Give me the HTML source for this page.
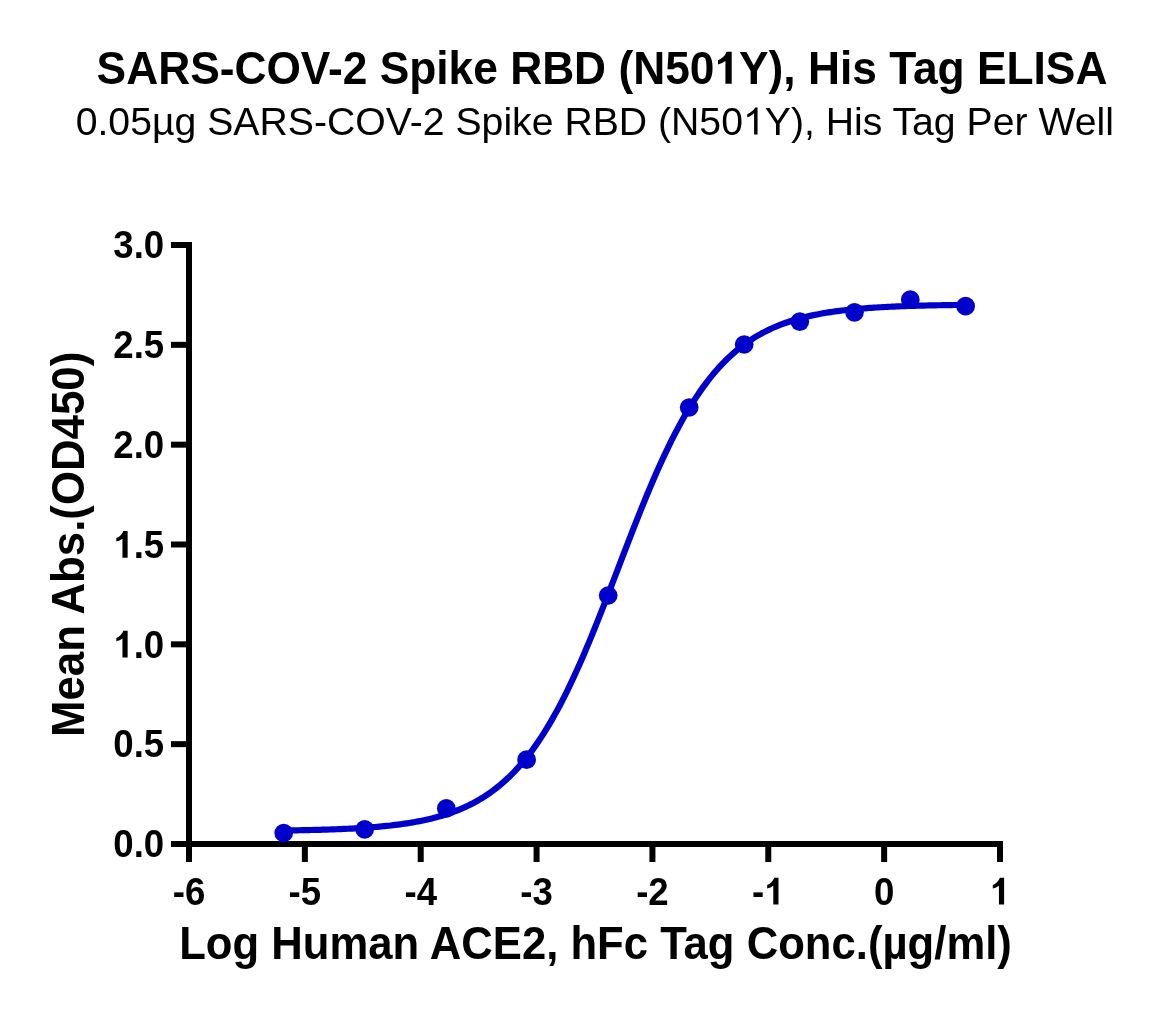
<!DOCTYPE html>
<html><head><meta charset="utf-8"><style>
html,body{margin:0;padding:0;background:#fff;}
svg{display:block;will-change:transform;}
text{font-family:"Liberation Sans",sans-serif;fill:#000;}
.tk{font-weight:bold;font-size:38.8px;}
.ttl{font-weight:bold;font-size:46.5px;}
.sub{font-size:39.2px;}
.ax{font-weight:bold;font-size:46.5px;}
</style></head><body>
<svg width="1157" height="1014" viewBox="0 0 1157 1014">
<rect width="1157" height="1014" fill="#fff"></rect>
<g transform="translate(602,83.8) scale(0.9527,1)"><text x="0" y="0" text-anchor="middle" class="ttl">SARS-COV-2 Spike RBD (N50 Y), His Tag ELISA</text><path d="M800 0L510 0L510 1000Q370 895 167 855L167 1035Q280 1075 400 1178Q520 1280 562 1412L800 1412Z" transform="translate(117.98,0.00) scale(0.022705,-0.022705)"></path></g>
<g><text x="594.8" y="134.5" text-anchor="middle" class="sub">0.05µg SARS-COV-2 Spike RBD (N50 Y), His Tag Per Well</text><path d="M763 0L583 0L583 1105Q518 1045 412 985Q307 925 223 896L223 1063Q374 1132 485 1227Q597 1323 647 1412L763 1412Z" transform="translate(742.94,134.50) scale(0.019141,-0.019141)"></path></g>
<g fill="#000">
<rect x="186" y="242" width="6" height="620"></rect>
<rect x="171" y="841" width="832" height="6"></rect>
<rect x="171" y="242.00" width="21" height="6"></rect>
<rect x="171" y="341.83" width="21" height="6"></rect>
<rect x="171" y="441.67" width="21" height="6"></rect>
<rect x="171" y="541.50" width="21" height="6"></rect>
<rect x="171" y="641.33" width="21" height="6"></rect>
<rect x="171" y="741.16" width="21" height="6"></rect>
<rect x="171" y="841.00" width="21" height="6"></rect>
<rect x="186.00" y="841" width="6" height="21"></rect>
<rect x="301.86" y="841" width="6" height="21"></rect>
<rect x="417.71" y="841" width="6" height="21"></rect>
<rect x="533.57" y="841" width="6" height="21"></rect>
<rect x="649.43" y="841" width="6" height="21"></rect>
<rect x="765.28" y="841" width="6" height="21"></rect>
<rect x="881.14" y="841" width="6" height="21"></rect>
<rect x="997.00" y="841" width="6" height="21"></rect>
</g>
<g><g transform="translate(164.20,258.20) scale(0.943,1)"><text x="0" y="0" text-anchor="end" class="tk">3.0</text></g>
<g transform="translate(164.20,358.03) scale(0.943,1)"><text x="0" y="0" text-anchor="end" class="tk">2.5</text></g>
<g transform="translate(164.20,457.87) scale(0.943,1)"><text x="0" y="0" text-anchor="end" class="tk">2.0</text></g>
<g transform="translate(164.20,557.70) scale(0.943,1)"><text x="0" y="0" text-anchor="end" class="tk"> .5</text><path d="M800 0L510 0L510 1000Q370 895 167 855L167 1035Q280 1075 400 1178Q520 1280 562 1412L800 1412Z" transform="translate(-53.94,0.00) scale(0.018945,-0.018945)"></path></g>
<g transform="translate(164.20,657.53) scale(0.943,1)"><text x="0" y="0" text-anchor="end" class="tk"> .0</text><path d="M800 0L510 0L510 1000Q370 895 167 855L167 1035Q280 1075 400 1178Q520 1280 562 1412L800 1412Z" transform="translate(-53.94,0.00) scale(0.018945,-0.018945)"></path></g>
<g transform="translate(164.20,757.37) scale(0.943,1)"><text x="0" y="0" text-anchor="end" class="tk">0.5</text></g>
<g transform="translate(164.20,857.20) scale(0.943,1)"><text x="0" y="0" text-anchor="end" class="tk">0.0</text></g>
<g transform="translate(189.00,904.60) scale(0.943,1)"><text x="0" y="0" text-anchor="middle" class="tk">-6</text></g>
<g transform="translate(304.86,904.60) scale(0.943,1)"><text x="0" y="0" text-anchor="middle" class="tk">-5</text></g>
<g transform="translate(420.71,904.60) scale(0.943,1)"><text x="0" y="0" text-anchor="middle" class="tk">-4</text></g>
<g transform="translate(536.57,904.60) scale(0.943,1)"><text x="0" y="0" text-anchor="middle" class="tk">-3</text></g>
<g transform="translate(652.43,904.60) scale(0.943,1)"><text x="0" y="0" text-anchor="middle" class="tk">-2</text></g>
<g transform="translate(768.28,904.60) scale(0.943,1)"><text x="0" y="0" text-anchor="middle" class="tk">- </text><path d="M800 0L510 0L510 1000Q370 895 167 855L167 1035Q280 1075 400 1178Q520 1280 562 1412L800 1412Z" transform="translate(-4.34,0.00) scale(0.018945,-0.018945)"></path></g>
<g transform="translate(884.14,904.60) scale(0.943,1)"><text x="0" y="0" text-anchor="middle" class="tk">0</text></g>
<g transform="translate(1000.00,904.60) scale(0.943,1)"><text x="0" y="0" text-anchor="middle" class="tk"> </text><path d="M800 0L510 0L510 1000Q370 895 167 855L167 1035Q280 1075 400 1178Q520 1280 562 1412L800 1412Z" transform="translate(-10.79,0.00) scale(0.018945,-0.018945)"></path></g></g>
<g transform="translate(595.5,959.1) scale(0.9390,1)"><text x="0" y="0" text-anchor="middle" class="ax">Log Human ACE2, hFc Tag Conc.(µg/ml)</text></g>
<g transform="translate(83.9,544.4) rotate(-90) scale(0.9423,1)"><text x="0" y="0" text-anchor="middle" class="ax">Mean Abs.(OD450)</text></g>
<path d="M283.83,830.52 L286.11,830.49 L288.39,830.45 L290.67,830.42 L292.94,830.38 L295.22,830.34 L297.50,830.30 L299.78,830.26 L302.06,830.22 L304.34,830.17 L306.62,830.12 L308.89,830.07 L311.17,830.02 L313.45,829.97 L315.73,829.91 L318.01,829.85 L320.29,829.78 L322.57,829.72 L324.84,829.65 L327.12,829.58 L329.40,829.50 L331.68,829.42 L333.96,829.34 L336.24,829.25 L338.52,829.16 L340.79,829.07 L343.07,828.97 L345.35,828.87 L347.63,828.76 L349.91,828.65 L352.19,828.53 L354.47,828.40 L356.74,828.28 L359.02,828.14 L361.30,828.00 L363.58,827.85 L365.86,827.70 L368.14,827.54 L370.42,827.37 L372.69,827.19 L374.97,827.01 L377.25,826.81 L379.53,826.61 L381.81,826.40 L384.09,826.18 L386.37,825.95 L388.64,825.71 L390.92,825.46 L393.20,825.20 L395.48,824.92 L397.76,824.63 L400.04,824.33 L402.32,824.02 L404.59,823.69 L406.87,823.35 L409.15,822.99 L411.43,822.62 L413.71,822.23 L415.99,821.82 L418.27,821.40 L420.54,820.95 L422.82,820.49 L425.10,820.00 L427.38,819.50 L429.66,818.97 L431.94,818.41 L434.22,817.84 L436.49,817.24 L438.77,816.61 L441.05,815.95 L443.33,815.27 L445.61,814.56 L447.89,813.81 L450.17,813.04 L452.44,812.23 L454.72,811.38 L457.00,810.51 L459.28,809.59 L461.56,808.63 L463.84,807.64 L466.12,806.60 L468.39,805.52 L470.67,804.39 L472.95,803.22 L475.23,802.00 L477.51,800.72 L479.79,799.40 L482.07,798.03 L484.34,796.59 L486.62,795.10 L488.90,793.56 L491.18,791.95 L493.46,790.27 L495.74,788.54 L498.02,786.73 L500.29,784.86 L502.57,782.91 L504.85,780.90 L507.13,778.80 L509.41,776.63 L511.69,774.39 L513.97,772.06 L516.24,769.64 L518.52,767.15 L520.80,764.56 L523.08,761.89 L525.36,759.13 L527.64,756.27 L529.92,753.32 L532.19,750.28 L534.47,747.14 L536.75,743.90 L539.03,740.56 L541.31,737.12 L543.59,733.58 L545.87,729.94 L548.14,726.19 L550.42,722.35 L552.70,718.40 L554.98,714.34 L557.26,710.19 L559.54,705.93 L561.82,701.56 L564.09,697.10 L566.37,692.54 L568.65,687.88 L570.93,683.12 L573.21,678.27 L575.49,673.32 L577.77,668.28 L580.04,663.16 L582.32,657.95 L584.60,652.66 L586.88,647.29 L589.16,641.85 L591.44,636.34 L593.72,630.77 L595.99,625.13 L598.27,619.44 L600.55,613.70 L602.83,607.91 L605.11,602.09 L607.39,596.22 L609.67,590.33 L611.94,584.42 L614.22,578.49 L616.50,572.55 L618.78,566.61 L621.06,560.66 L623.34,554.72 L625.62,548.80 L627.89,542.90 L630.17,537.02 L632.45,531.17 L634.73,525.36 L637.01,519.59 L639.29,513.86 L641.57,508.19 L643.84,502.58 L646.12,497.03 L648.40,491.55 L650.68,486.14 L652.96,480.80 L655.24,475.54 L657.52,470.37 L659.79,465.28 L662.07,460.28 L664.35,455.37 L666.63,450.55 L668.91,445.83 L671.19,441.21 L673.47,436.68 L675.74,432.26 L678.02,427.94 L680.30,423.72 L682.58,419.60 L684.86,415.59 L687.14,411.68 L689.42,407.87 L691.69,404.17 L693.97,400.57 L696.25,397.07 L698.53,393.67 L700.81,390.37 L703.09,387.17 L705.37,384.06 L707.64,381.06 L709.92,378.15 L712.20,375.33 L714.48,372.60 L716.76,369.96 L719.04,367.41 L721.32,364.95 L723.59,362.57 L725.87,360.27 L728.15,358.05 L730.43,355.92 L732.71,353.85 L734.99,351.86 L737.27,349.95 L739.54,348.10 L741.82,346.32 L744.10,344.61 L746.38,342.97 L748.66,341.38 L750.94,339.86 L753.22,338.39 L755.49,336.98 L757.77,335.62 L760.05,334.32 L762.33,333.07 L764.61,331.87 L766.89,330.71 L769.17,329.61 L771.44,328.54 L773.72,327.52 L776.00,326.54 L778.28,325.60 L780.56,324.70 L782.84,323.83 L785.12,323.00 L787.39,322.21 L789.67,321.44 L791.95,320.71 L794.23,320.01 L796.51,319.34 L798.79,318.69 L801.07,318.08 L803.34,317.49 L805.62,316.92 L807.90,316.38 L810.18,315.86 L812.46,315.36 L814.74,314.88 L817.02,314.43 L819.29,313.99 L821.57,313.57 L823.85,313.17 L826.13,312.79 L828.41,312.42 L830.69,312.07 L832.97,311.73 L835.24,311.41 L837.52,311.10 L839.80,310.81 L842.08,310.52 L844.36,310.25 L846.64,309.99 L848.92,309.75 L851.19,309.51 L853.47,309.28 L855.75,309.07 L858.03,308.86 L860.31,308.66 L862.59,308.47 L864.87,308.29 L867.14,308.12 L869.42,307.95 L871.70,307.79 L873.98,307.64 L876.26,307.50 L878.54,307.36 L880.82,307.23 L883.09,307.10 L885.37,306.98 L887.65,306.86 L889.93,306.75 L892.21,306.64 L894.49,306.54 L896.77,306.45 L899.04,306.35 L901.32,306.26 L903.60,306.18 L905.88,306.10 L908.16,306.02 L910.44,305.95 L912.72,305.88 L914.99,305.81 L917.27,305.74 L919.55,305.68 L921.83,305.62 L924.11,305.57 L926.39,305.51 L928.67,305.46 L930.94,305.41 L933.22,305.36 L935.50,305.32 L937.78,305.27 L940.06,305.23 L942.34,305.19 L944.62,305.16 L946.89,305.12 L949.17,305.09 L951.45,305.05 L953.73,305.02 L956.01,304.99 L958.29,304.96 L960.57,304.93 L962.84,304.91 L965.12,304.88" fill="none" stroke="#0000CD" stroke-width="6.2" stroke-linejoin="round" stroke-linecap="round"></path>
<g fill="#0000CD">
<circle cx="283.7" cy="833.0" r="9.35"></circle>
<circle cx="364.7" cy="829.3" r="9.35"></circle>
<circle cx="446.3" cy="808.4" r="9.35"></circle>
<circle cx="526.6" cy="759.7" r="9.35"></circle>
<circle cx="608.2" cy="595.5" r="9.35"></circle>
<circle cx="689.2" cy="407.5" r="9.35"></circle>
<circle cx="744.2" cy="344.5" r="9.35"></circle>
<circle cx="799.8" cy="321.6" r="9.35"></circle>
<circle cx="854.5" cy="312.3" r="9.35"></circle>
<circle cx="910.3" cy="299.7" r="9.35"></circle>
<circle cx="965.6" cy="306.2" r="9.35"></circle>
</g>
</svg>
</body></html>
